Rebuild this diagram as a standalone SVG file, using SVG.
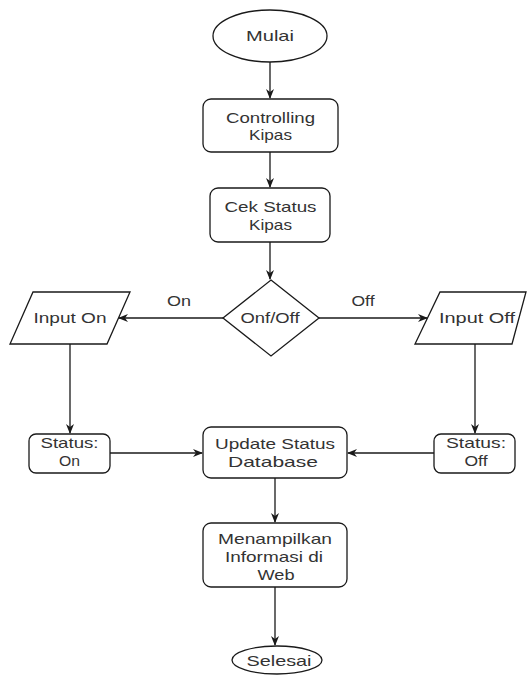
<svg xmlns="http://www.w3.org/2000/svg" width="527" height="680" viewBox="0 0 527 680">
  <style>
    .shape { fill: #ffffff; stroke: #1a1a1a; stroke-width: 1.3; }
    .edge { fill: none; stroke: #1a1a1a; stroke-width: 1.3; }
    text { font-family: "Liberation Sans", Arial, sans-serif; font-size: 15px; fill: #333333; text-anchor: middle; }
  </style>
  <defs>
    <marker id="arrow" viewBox="0 0 10 8" refX="9" refY="4" markerWidth="10" markerHeight="8" markerUnits="userSpaceOnUse" orient="auto">
      <path d="M0,0 L10,4 L0,8 L3,4 z" fill="#1a1a1a"/>
    </marker>
  </defs>
  <rect width="527" height="680" fill="#ffffff"/>

  <g id="connectors">
    <line class="edge" x1="270" y1="62" x2="270" y2="98" marker-end="url(#arrow)"/>
    <line class="edge" x1="270" y1="152" x2="270" y2="187" marker-end="url(#arrow)"/>
    <line class="edge" x1="270" y1="242" x2="270" y2="279" marker-end="url(#arrow)"/>
    <line class="edge" x1="223" y1="318" x2="119" y2="318" marker-end="url(#arrow)"/>
    <line class="edge" x1="319" y1="318" x2="427" y2="318" marker-end="url(#arrow)"/>
    <line class="edge" x1="70" y1="344" x2="70" y2="433" marker-end="url(#arrow)"/>
    <line class="edge" x1="475" y1="344" x2="475" y2="433" marker-end="url(#arrow)"/>
    <line class="edge" x1="110" y1="453" x2="202" y2="453" marker-end="url(#arrow)"/>
    <line class="edge" x1="434" y1="453" x2="348" y2="453" marker-end="url(#arrow)"/>
    <line class="edge" x1="275" y1="478" x2="275" y2="522" marker-end="url(#arrow)"/>
    <line class="edge" x1="275" y1="587" x2="275" y2="645" marker-end="url(#arrow)"/>
    <text x="179" y="306" textLength="24" lengthAdjust="spacingAndGlyphs">On</text>
    <text x="363" y="306" textLength="23" lengthAdjust="spacingAndGlyphs">Off</text>
  </g>

  <g id="mulai">
    <ellipse class="shape" cx="270" cy="36" rx="57" ry="26"/>
    <text x="270" y="41" textLength="48" lengthAdjust="spacingAndGlyphs">Mulai</text>
  </g>

  <g id="controlling-kipas">
    <rect class="shape" x="203" y="99" width="135" height="53" rx="8"/>
    <text x="270.5" y="122.5" textLength="89" lengthAdjust="spacingAndGlyphs">Controlling</text>
    <text x="270.5" y="140" textLength="43" lengthAdjust="spacingAndGlyphs">Kipas</text>
  </g>

  <g id="cek-status">
    <rect class="shape" x="210" y="188" width="120" height="54" rx="8"/>
    <text x="270.5" y="211.5" textLength="92" lengthAdjust="spacingAndGlyphs">Cek Status</text>
    <text x="270.5" y="229.5" textLength="43" lengthAdjust="spacingAndGlyphs">Kipas</text>
  </g>

  <g id="onoff">
    <polygon class="shape" points="271,280 319,318 271,356 223,318"/>
    <text x="270" y="323" textLength="59" lengthAdjust="spacingAndGlyphs">Onf/Off</text>
  </g>

  <g id="input-on">
    <polygon class="shape" points="33,292 130,292 107,344 10,344"/>
    <text x="70" y="323" textLength="73" lengthAdjust="spacingAndGlyphs">Input On</text>
  </g>

  <g id="input-off">
    <polygon class="shape" points="440,292 526,292 512,344 415,344"/>
    <text x="477" y="323" textLength="76" lengthAdjust="spacingAndGlyphs">Input Off</text>
  </g>

  <g id="status-on">
    <rect class="shape" x="29" y="434" width="81" height="39" rx="7"/>
    <text x="69.5" y="448" textLength="58" lengthAdjust="spacingAndGlyphs">Status:</text>
    <text x="69.5" y="466" textLength="21" lengthAdjust="spacingAndGlyphs">On</text>
  </g>

  <g id="status-off">
    <rect class="shape" x="434" y="434" width="81" height="39" rx="7"/>
    <text x="476" y="448" textLength="60" lengthAdjust="spacingAndGlyphs">Status:</text>
    <text x="476" y="466" textLength="23" lengthAdjust="spacingAndGlyphs">Off</text>
  </g>

  <g id="update-status">
    <rect class="shape" x="203" y="427" width="144" height="51" rx="8"/>
    <text x="275" y="449" textLength="120" lengthAdjust="spacingAndGlyphs">Update Status</text>
    <text x="273" y="467" textLength="90" lengthAdjust="spacingAndGlyphs">Database</text>
  </g>

  <g id="menampilkan">
    <rect class="shape" x="203" y="523" width="144" height="64" rx="8"/>
    <text x="275" y="544" textLength="114" lengthAdjust="spacingAndGlyphs">Menampilkan</text>
    <text x="274" y="562" textLength="98" lengthAdjust="spacingAndGlyphs">Informasi di</text>
    <text x="276" y="580" textLength="37" lengthAdjust="spacingAndGlyphs">Web</text>
  </g>

  <g id="selesai">
    <ellipse class="shape" cx="277" cy="660" rx="45" ry="14"/>
    <text x="279" y="666" textLength="65" lengthAdjust="spacingAndGlyphs">Selesai</text>
  </g>
</svg>
